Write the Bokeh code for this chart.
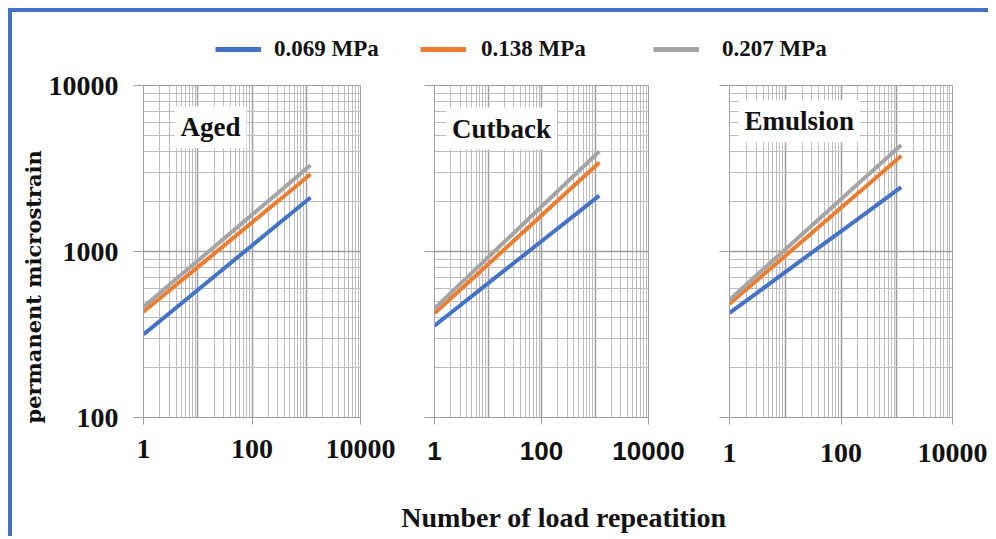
from bokeh.plotting import figure
from bokeh.layouts import column, row
from bokeh.models import Range1d, FixedTicker, Label, Legend, LegendItem, Title
from bokeh.embed import file_html
from bokeh.resources import INLINE

# ---------------- data ----------------
load_repetitions = [1, 3, 10, 30, 100, 300, 1000, 1200]

series_names = ["0.069 MPa", "0.138 MPa", "0.207 MPa"]
series_colors = ["#4472C4", "#ED7D31", "#A5A5A5"]

panel_names = ["Aged", "Cutback", "Emulsion"]

aged_069 = [316, 425, 586, 787, 1087, 1459, 2014, 2113]
aged_138 = [434, 582, 805, 1081, 1496, 2010, 2780, 2920]
aged_207 = [464, 630, 879, 1191, 1663, 2254, 3148, 3310]

cutback_069 = [358, 473, 643, 849, 1153, 1524, 2070, 2170]
cutback_138 = [424, 586, 836, 1156, 1648, 2280, 3250, 3440]
cutback_207 = [454, 636, 920, 1288, 1866, 2612, 3784, 4000]

emulsion_069 = [427, 558, 752, 985, 1324, 1734, 2333, 2440]
emulsion_138 = [484, 665, 942, 1294, 1832, 2518, 3565, 3770]
emulsion_207 = [512, 714, 1028, 1435, 2065, 2884, 4150, 4380]

x_tick_values = [1, 100, 10000]
y_tick_values = [100, 1000, 10000]
x_title = "Number  of load repeatition"
y_title = "permanent  microstrain"

panel_data = [
    [aged_069, aged_138, aged_207],
    [cutback_069, cutback_138, cutback_207],
    [emulsion_069, emulsion_138, emulsion_207],
]

# ---------------- styling / layout ----------------
GRID_MAJOR = "#9E9E9E"
GRID_MINOR = "#BDBDBD"
SERIF = "Liberation Serif"

x_decades = [1, 10, 100, 1000, 10000]
x_minors = [m * 10 ** k for k in range(4) for m in range(2, 10)]
y_decades = [100, 1000, 10000]
y_minors = [m * 10 ** k for k in range(2, 4) for m in range(2, 10)]

ROW_H = 406
panel_layout = [
    dict(width=388, bl=131, br=40, bt=23, bb=51, font=SERIF, size="28px", so=15, tx=17.2, ty=5600),
    dict(width=292, bl=34, br=44, bt=23, bb=51, font="Liberation Sans", size="26px", so=17, tx=17.9, ty=5500),
    dict(width=296, bl=37, br=36, bt=23, bb=51, font=SERIF, size="28px", so=19, tx=17.8, ty=6100),
]

figs = []
for i, (name, data, lay) in enumerate(zip(panel_names, panel_data, panel_layout)):
    p = figure(width=lay["width"], height=ROW_H, x_axis_type="log", y_axis_type="log",
               x_range=Range1d(1, 10000), y_range=Range1d(100, 10000),
               output_backend="svg", toolbar_location=None,
               min_border_left=lay["bl"], min_border_right=lay["br"],
               min_border_top=lay["bt"], min_border_bottom=lay["bb"])
    p.outline_line_color = GRID_MAJOR
    p.outline_line_width = 1
    p.background_fill_color = "white"
    p.border_fill_color = "white"

    p.xgrid.ticker = FixedTicker(ticks=x_decades, minor_ticks=x_minors)
    p.ygrid.ticker = FixedTicker(ticks=y_decades, minor_ticks=y_minors)
    for g in (p.xgrid, p.ygrid):
        g.grid_line_color = GRID_MAJOR
        g.grid_line_width = 1.5
        g.minor_grid_line_color = GRID_MINOR
        g.minor_grid_line_width = 1

    p.xaxis.ticker = FixedTicker(ticks=x_tick_values)
    p.yaxis.ticker = FixedTicker(ticks=y_tick_values)
    for ax in (p.xaxis, p.yaxis):
        ax.axis_line_color = GRID_MAJOR
        ax.major_tick_line_color = GRID_MAJOR
        ax.minor_tick_line_color = None
        ax.major_tick_in = 0
        ax.major_label_text_color = "#111111"
        ax.major_label_text_font_style = "bold"
    p.xaxis.major_tick_out = 7
    p.yaxis.major_tick_out = 10
    p.xaxis.major_label_text_font = lay["font"]
    p.xaxis.major_label_text_font_size = lay["size"]
    p.xaxis.major_label_standoff = lay["so"]
    p.xaxis.major_label_overrides = {v: str(v) for v in x_tick_values}
    if i == 0:
        p.yaxis.major_label_text_font = SERIF
        p.yaxis.major_label_text_font_size = "28px"
        p.yaxis.major_label_standoff = 15
        p.yaxis.major_label_overrides = {v: str(v) for v in y_tick_values}
        p.add_layout(Title(text=y_title, align="left", offset=-6, standoff=0,
                           text_font="DejaVu Serif", text_font_style="bold",
                           text_font_size="21px", text_color="#111111"), "left")
    else:
        p.yaxis.major_label_overrides = {v: "" for v in y_tick_values}
        p.yaxis.major_label_standoff = 0

    for vals, color in zip(data, series_colors):
        p.line(load_repetitions, vals, line_color=color, line_width=4)

    p.add_layout(Label(x=lay["tx"], y=lay["ty"], text=name, text_align="center",
                       text_baseline="middle", text_font=SERIF, text_font_style="bold",
                       text_font_size="27px", text_color="#111111",
                       background_fill_color="white", padding=6))
    figs.append(p)

# legend strip on top
top = figure(width=976, height=50, x_range=Range1d(0, 976), y_range=Range1d(0, 50),
             output_backend="svg", toolbar_location=None, min_border=0)
top.axis.visible = False
top.grid.visible = False
top.outline_line_color = None
legend_x = [203, 408, 641]
legend_standoff = [13, 15, 23]
for i in range(3):
    r = top.line(x=[-100, -90], y=[-100, -100], line_color=series_colors[i], line_width=5)
    lg = Legend(items=[LegendItem(label=series_names[i], renderers=[r])],
                location=(legend_x[i], 0), orientation="horizontal",
                glyph_width=46, glyph_height=26, label_height=26,
                label_standoff=legend_standoff[i], padding=0, margin=0,
                border_line_color=None, background_fill_alpha=0,
                label_text_font=SERIF, label_text_font_style="bold",
                label_text_font_size="23px", label_text_color="#111111")
    top.add_layout(lg)

# x-axis title strip at the bottom
bottom = figure(width=976, height=68, x_range=Range1d(0, 976), y_range=Range1d(0, 68),
                output_backend="svg", toolbar_location=None, min_border=0)
bottom.axis.visible = False
bottom.grid.visible = False
bottom.outline_line_color = None
bottom.add_layout(Label(x=555, y=19, text=x_title, text_align="center", text_baseline="middle",
                        text_font=SERIF, text_font_style="bold", text_font_size="28px",
                        text_color="#111111"))

layout = column(top, row(*figs, spacing=0), bottom, spacing=0,
                styles={"border-top": "4px solid #4472C4", "border-left": "4px solid #4472C4",
                        "margin-left": "8px", "margin-top": "8px"})

open("out.html", "w").write(file_html(layout, INLINE))
